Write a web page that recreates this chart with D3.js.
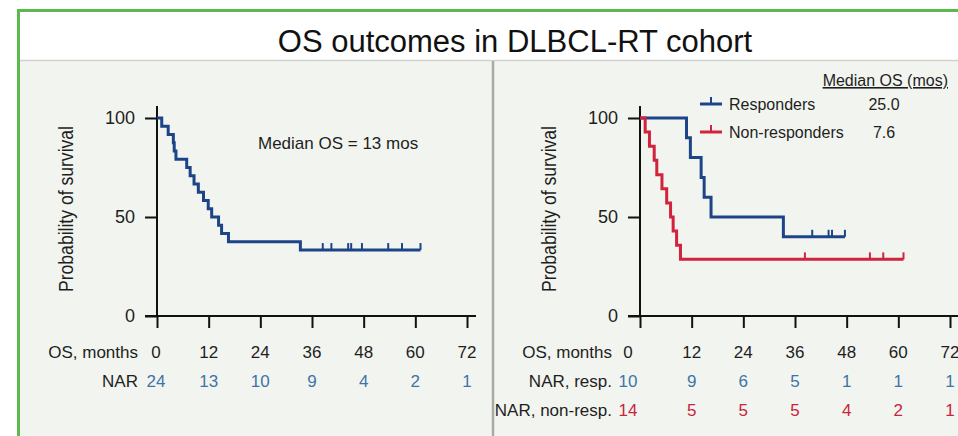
<!DOCTYPE html>
<html><head><meta charset="utf-8">
<script src="https://cdn.jsdelivr.net/npm/d3@7/dist/d3.min.js"></script>
<style>
html,body{margin:0;padding:0;background:#fff;}
svg{display:block;font-family:"Liberation Sans",Arial,Helvetica,sans-serif;}
</style></head>
<body>
<svg id="chart" width="958" height="436"></svg>
<script>
// ---------- data ----------
const title = "OS outcomes in DLBCL-RT cohort";
const monthTicks = [0, 12, 24, 36, 48, 60, 72];
const survTicks = [0, 50, 100];

// whole cohort (KM step points: time in months, survival %)
const allTimes = [0, 1.1, 2.6, 3.8, 4.0, 4.4, 6.9, 7.7, 8.6, 9.6, 10.8, 11.9, 12.7, 14.3, 15.0, 16.6, 33.3, 61.2];
const allSurv  = [100, 95.8, 91.7, 87.5, 83.3, 79.2, 75.0, 70.8, 66.7, 62.5, 58.3, 54.2, 50.0, 45.8, 41.7, 37.5, 33.3, 33.3];
const allCensor = [38.5, 40.5, 44.4, 45.1, 47.6, 53.7, 56.9, 61.2];
const narAll = [24, 13, 10, 9, 4, 2, 1];

// responders
const respTimes = [0, 10.8, 11.7, 14.2, 14.9, 16.5, 33.3, 47.6];
const respSurv  = [100, 90, 80, 70, 60, 50, 40, 40];
const respCensor = [40.0, 43.8, 44.6, 47.6];
const narResp = [10, 9, 6, 5, 1, 1, 1];

// non-responders
const nonTimes = [0, 1.2, 2.2, 3.3, 3.9, 5.1, 6.2, 7.1, 7.7, 8.5, 9.4, 61.2];
const nonSurv  = [100, 92.9, 85.7, 78.6, 71.4, 64.3, 57.1, 50.0, 42.9, 35.7, 28.6, 28.6];
const nonCensor = [38.3, 53.4, 56.5, 61.2];
const narNon = [14, 5, 5, 5, 4, 2, 1];

const legendNames = ["Responders", "Non-responders"];
const legendMedians = ["25.0", "7.6"];
const medianAll = "Median OS = 13 mos";

// ---------- styles ----------
const C = {
  green: "#5db84f", bg: "#f2f5ef", divider: "#a8aaa7", sep: "#cfd2cd",
  navy: "#1d4488", red: "#d2233c", narBlue: "#3f73a8", narRed: "#c8243d", text: "#1e1e1e"
};

const svg = d3.select("#chart");

// frame
svg.append("rect").attr("x", 0).attr("y", 0).attr("width", 958).attr("height", 436).attr("fill", "#fff");
svg.append("rect").attr("x", 20).attr("y", 61).attr("width", 940).attr("height", 380).attr("fill", C.bg);
svg.append("line").attr("x1", 20).attr("x2", 958).attr("y1", 60.5).attr("y2", 60.5).attr("stroke", C.sep).attr("stroke-width", 1.5);
svg.append("rect").attr("x", 18.5).attr("y", 10.5).attr("width", 960).attr("height", 460)
  .attr("fill", "none").attr("stroke", C.green).attr("stroke-width", 3);
svg.append("line").attr("x1", 493).attr("x2", 493).attr("y1", 61).attr("y2", 436)
  .attr("stroke", C.divider).attr("stroke-width", 2.5);

svg.append("text").attr("x", 515).attr("y", 52).attr("text-anchor", "middle")
  .attr("font-size", 31).attr("fill", "#111").text(title);

const y = d3.scaleLinear().domain([0, 100]).range([316, 118]);

function panel(x0, xEnd, opts) {
  const x = d3.scaleLinear().domain([0, 72]).range([x0, x0 + 310]);
  const g = svg.append("g");
  // axis lines
  g.append("line").attr("x1", x(0)).attr("x2", x(0)).attr("y1", y(106)).attr("y2", y(0))
    .attr("stroke", "#111").attr("stroke-width", 2);
  g.append("line").attr("x1", x(0) - 12).attr("x2", xEnd).attr("y1", y(0)).attr("y2", y(0))
    .attr("stroke", "#111").attr("stroke-width", 2);
  const xa = g.append("g").attr("transform", `translate(0,${y(0)})`)
    .call(d3.axisBottom(x).tickValues(monthTicks).tickSize(12).tickFormat(""));
  xa.select(".domain").remove();
  xa.selectAll("line").attr("stroke", "#111").attr("stroke-width", 2);
  const ya = g.append("g").attr("transform", `translate(${x(0)},0)`)
    .call(d3.axisLeft(y).tickValues(survTicks).tickSize(12).tickPadding(10));
  ya.select(".domain").remove();
  ya.selectAll("line").attr("stroke", "#111").attr("stroke-width", 2);
  ya.selectAll("text").attr("font-size", 18).attr("fill", C.text)
    .attr("font-family", "Liberation Sans, Arial, sans-serif");

  g.append("text").attr("transform", `translate(${x0 - 84},${209}) rotate(-90)`)
    .attr("text-anchor", "middle").attr("font-size", 21).attr("fill", C.text)
    .attr("textLength", 166).attr("lengthAdjust", "spacingAndGlyphs")
    .text("Probability of survival");

  const line = d3.line().x(d => x(d[0])).y(d => y(d[1])).curve(d3.curveStepAfter);
  opts.series.forEach(s => {
    const pts = s.times.map((t, i) => [t, s.surv[i]]);
    g.append("path").attr("d", line(pts)).attr("fill", "none")
      .attr("stroke", s.color).attr("stroke-width", 3).attr("stroke-linejoin", "miter");
    const survAt = t => { let v = 100; s.times.forEach((tt, i) => { if (tt <= t) v = s.surv[i]; }); return v; };
    g.selectAll(null).data(s.censor).join("line")
      .attr("x1", d => x(d)).attr("x2", d => x(d))
      .attr("y1", d => y(survAt(d))).attr("y2", d => y(survAt(d)) - 7)
      .attr("stroke", s.color).attr("stroke-width", 2);
  });

  // number-at-risk table
  const rowY = [352, 381, 410];
  const rows = [{label: "OS, months", vals: monthTicks, color: C.text}].concat(opts.nar);
  rows.forEach((r, ri) => {
    g.append("text").attr("x", opts.labelEnd).attr("y", rowY[ri]).attr("dy", "0.35em")
      .attr("text-anchor", "end").attr("font-size", 17).attr("fill", C.text).text(r.label);
    g.selectAll(null).data(r.vals).join("text")
      .attr("x", (d, i) => x(monthTicks[i]) + (i === 0 ? opts.firstShift : 0))
      .attr("y", rowY[ri]).attr("dy", "0.35em").attr("text-anchor", "middle")
      .attr("font-size", 17).attr("fill", r.color).text(d => d);
  });
  return x;
}

const xL = panel(157, 476, {
  series: [{times: allTimes, surv: allSurv, censor: allCensor, color: C.navy}],
  nar: [{label: "NAR", vals: narAll, color: C.narBlue}],
  labelEnd: 138, firstShift: -1
});
svg.append("text").attr("x", 258).attr("y", 143).attr("dy", "0.35em")
  .attr("font-size", 17).attr("fill", C.text).text(medianAll);

const xR = panel(640, 958, {
  series: [
    {times: respTimes, surv: respSurv, censor: respCensor, color: C.navy},
    {times: nonTimes, surv: nonSurv, censor: nonCensor, color: C.red}
  ],
  nar: [
    {label: "NAR, resp.", vals: narResp, color: C.narBlue},
    {label: "NAR, non-resp.", vals: narNon, color: C.narRed}
  ],
  labelEnd: 612, firstShift: -12
});

// legend
const lg = svg.append("g");
lg.append("text").attr("x", 948).attr("y", 86).attr("text-anchor", "end")
  .attr("font-size", 16).attr("fill", C.text).attr("text-decoration", "underline").text("Median OS (mos)");
const legColors = [C.navy, C.red];
legendNames.forEach((n, i) => {
  const yy = 104 + i * 28;
  lg.append("line").attr("x1", 700).attr("x2", 722).attr("y1", yy).attr("y2", yy)
    .attr("stroke", legColors[i]).attr("stroke-width", 3);
  lg.append("line").attr("x1", 711).attr("x2", 711).attr("y1", yy).attr("y2", yy - 7)
    .attr("stroke", legColors[i]).attr("stroke-width", 2);
  lg.append("text").attr("x", 729).attr("y", yy).attr("dy", "0.35em")
    .attr("font-size", 16).attr("fill", C.text).text(n);
  lg.append("text").attr("x", 884).attr("y", yy).attr("dy", "0.35em").attr("text-anchor", "middle")
    .attr("font-size", 16).attr("fill", C.text).text(legendMedians[i]);
});
</script>
</body></html>
